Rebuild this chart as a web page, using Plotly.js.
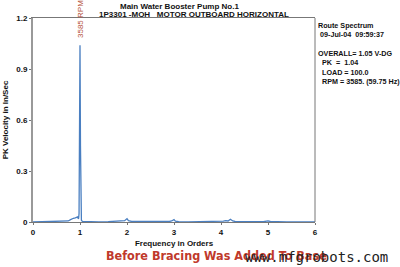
<!DOCTYPE html>
<html><head><meta charset="utf-8">
<script src="https://cdn.plot.ly/plotly-3.0.1.min.js"></script>
<style>body{margin:0;background:#fff}#c{width:400px;height:267px}</style>
</head><body><div id="c"></div>
<script>
const freqOrders = [0, 0.1, 0.2, 0.3, 0.35, 0.4, 0.45, 0.5, 0.6, 0.7, 0.75, 0.8, 0.83, 0.86, 0.9, 0.93, 0.95, 0.96, 0.97, 0.98, 0.99, 1.0, 1.01, 1.02, 1.03, 1.05, 1.1, 1.2, 1.4, 1.6, 1.75, 1.8, 1.9, 1.95, 2.0, 2.03, 2.1, 2.3, 2.5, 2.7, 2.9, 2.95, 3.0, 3.03, 3.1, 3.3, 3.5, 3.7, 3.85, 3.9, 4.0, 4.05, 4.1, 4.15, 4.2, 4.25, 4.3, 4.5, 4.7, 4.9, 4.95, 5.0, 5.05, 5.1, 5.2, 5.4, 5.6, 5.8, 5.9, 6.0];
const pkVelocity = [0, 0.001, 0.002, 0.001, 0.003, 0.001, 0.002, 0.001, 0.002, 0.004, 0.006, 0.014, 0.02, 0.022, 0.024, 0.026, 0.03, 0.022, 0.02, 0.05, 0.4, 1.04, 0.45, 0.06, 0.01, 0.004, 0.003, 0.002, 0.001, 0.002, 0.003, 0.006, 0.004, 0.008, 0.02, 0.008, 0.003, 0.002, 0.001, 0.002, 0.003, 0.006, 0.014, 0.005, 0.002, 0.001, 0.002, 0.001, 0.003, 0.004, 0.006, 0.005, 0.008, 0.006, 0.016, 0.006, 0.003, 0.001, 0.002, 0.002, 0.004, 0.006, 0.003, 0.004, 0.002, 0.001, 0.001, 0.002, 0.003, 0.001];
const xTicks = [0, 1, 2, 3, 4, 5, 6];
const yTicks = [0, 0.3, 0.6, 0.9, 1.2];
const yTickText = ['0', '0.3', '0.6', '0.9', '1.2'];
const titleLines = ['Main Water Booster Pump No.1', '1P3301 -MOH   MOTOR OUTBOARD HORIZONTAL'];
const infoLines = ['Route Spectrum', ' 09-Jul-04  09:59:37', '', 'OVERALL= 1.05 V-DG', '  PK  =  1.04', '  LOAD = 100.0', '  RPM = 3585. (59.75 Hz)'];
const rpmLabel = '3585 RPM';
const caption = 'Before Bracing Was Added To Base';
const watermark = 'www.mfgrobots.com';

const F = 'Arial, "Liberation Sans", sans-serif';
const annotations = [
  {xref:'paper', yref:'paper', x:0.52, y:1.0, yshift:12, text:'<b>'+titleLines[0]+'</b>', showarrow:false, font:{family:F,size:8,color:'#111'}, xanchor:'center', yanchor:'middle'},
  {xref:'paper', yref:'paper', x:0.57, y:1.0, yshift:4, text:'<b>'+titleLines[1]+'</b>', showarrow:false, font:{family:F,size:8,color:'#111'}, xanchor:'center', yanchor:'middle'},
  {xref:'paper', yref:'paper', x:1.0, xshift:1, y:1.0, yshift:-1, text:'<b>'+infoLines.join('<br>')+'</b>', showarrow:false, align:'left', xanchor:'left', yanchor:'top', font:{family:F,size:7.2,color:'#111'}},
  {xref:'x', yref:'paper', x:1.0, y:1.0, yshift:-1, text:rpmLabel, textangle:-90, showarrow:false, xanchor:'center', yanchor:'middle', font:{family:F,size:8,color:'#b5533c'}},
  {xref:'paper', yref:'paper', x:0.652, y:0, yshift:-33, text:'<b>'+caption+'</b>', showarrow:false, xanchor:'center', yanchor:'middle', font:{family:'"DejaVu Sans Condensed", "Liberation Sans Narrow", Arial, sans-serif', size:12.5, color:'#c0392b'}},
  {xref:'paper', yref:'paper', x:1.0, xshift:75, y:0, yshift:-35, text:watermark, showarrow:false, xanchor:'right', yanchor:'middle', font:{family:'"DejaVu Sans Mono", monospace', size:14, color:'#222'}}
];

Plotly.newPlot('c', [{
  x: freqOrders, y: pkVelocity, type:'scatter', mode:'lines',
  line:{color:'#4a7fc1', width:1.3}, hoverinfo:'skip'
}], {
  width:400, height:267,
  margin:{l:33, r:85, t:18, b:45},
  paper_bgcolor:'#fff', plot_bgcolor:'#fff',
  showlegend:false,
  xaxis:{range:[0,6], tickvals:xTicks, ticktext:xTicks.map(String), showgrid:false, zeroline:false,
    showline:true, mirror:true, linecolor:'#777', linewidth:1, ticks:'outside', ticklen:2, tickcolor:'#777',
    tickfont:{family:F,size:8,color:'#111',weight:'bold'},
    title:{text:'<b>Frequency in Orders</b>', font:{family:F,size:8,color:'#111'}, standoff:4}},
  yaxis:{range:[0,1.2], tickvals:yTicks, ticktext:yTickText, showgrid:false, zeroline:false,
    showline:true, linecolor:'#999', linewidth:2, ticks:'outside', ticklen:2, tickcolor:'#777',
    tickfont:{family:F,size:8,color:'#111',weight:'bold'},
    title:{text:'<b>PK Velocity in In/Sec</b>', font:{family:F,size:8,color:'#111'}, standoff:6}},
  shapes:[{type:'line', xref:'paper', yref:'paper', x0:1, x1:1, y0:0, y1:1, line:{color:'#777', width:1}}],
  annotations: annotations
}, {staticPlot:true, displayModeBar:false});
</script></body></html>
